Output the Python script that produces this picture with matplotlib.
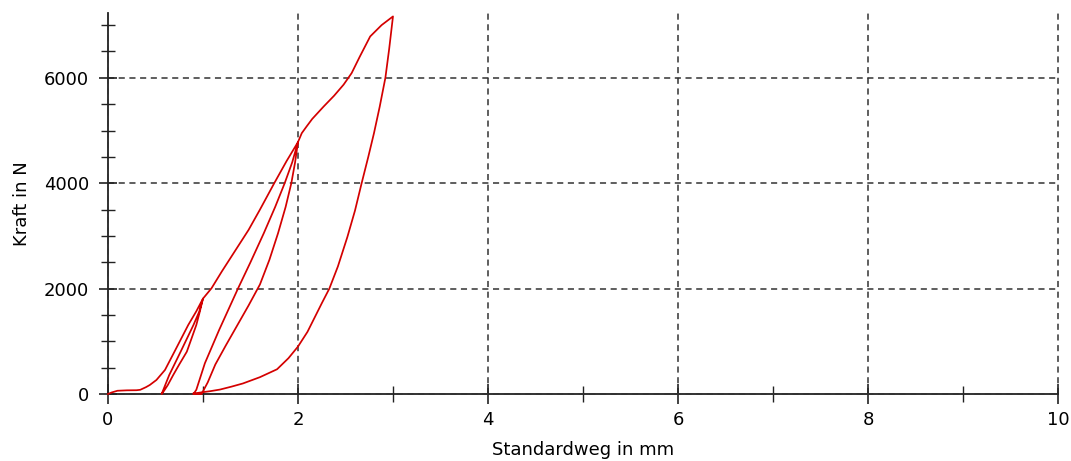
import matplotlib
matplotlib.use("Agg")
import matplotlib.pyplot as plt
from matplotlib.ticker import MultipleLocator

# ---- data (Standardweg in mm, Kraft in N) ----
load1_x = [0.0, 0.04, 0.10, 0.20, 0.30, 0.34, 0.40, 0.44, 0.51, 0.60, 0.70, 0.845, 0.93, 1.0]
load1_y = [0, 30, 62, 70, 72, 80, 130, 171, 266, 456, 803, 1310, 1570, 1810]

unload1_x = [1.0, 0.965, 0.93, 0.875, 0.83, 0.75, 0.687, 0.63, 0.59, 0.565]
unload1_y = [1810, 1550, 1310, 1030, 803, 560, 361, 171, 60, 0]

reload1_x = [0.565, 0.585, 0.645, 0.765, 0.90, 0.96, 1.0, 1.09, 1.20, 1.35, 1.48, 1.60, 1.75, 1.88, 2.0]
reload1_y = [0, 90, 361, 803, 1310, 1560, 1810, 2007, 2330, 2750, 3114, 3500, 4000, 4420, 4780]

unload2_x = [2.0, 1.97, 1.93, 1.87, 1.79, 1.70, 1.60, 1.48, 1.36, 1.24, 1.13, 1.05, 1.0, 0.985]
unload2_y = [4780, 4400, 4000, 3550, 3050, 2550, 2080, 1680, 1300, 920, 560, 220, 50, 0]

reload2_x = [0.985, 0.90, 0.93, 1.02, 1.17, 1.37, 1.50, 1.64, 1.76, 1.86, 1.94, 2.0,
             2.04, 2.09, 2.15, 2.27, 2.38, 2.48, 2.565, 2.65, 2.76, 2.88, 3.0]
reload2_y = [0, 0, 80, 583, 1215, 2007, 2500, 3050, 3550, 4000, 4400, 4780,
             4950, 5075, 5220, 5455, 5660, 5870, 6090, 6400, 6785, 7000, 7165]

unload3_x = [3.0, 2.96, 2.92, 2.86, 2.80, 2.74, 2.67, 2.60, 2.52, 2.42, 2.33, 2.25, 2.18, 2.10,
             2.0, 1.90, 1.78, 1.60, 1.42, 1.30, 1.18, 1.08, 0.98, 0.90]
unload3_y = [7165, 6550, 6000, 5450, 4950, 4500, 4000, 3480, 2980, 2420, 2000, 1720, 1468, 1180,
             900, 680, 470, 320, 200, 140, 85, 55, 30, 10]

x_ticks = [0, 2, 4, 6, 8, 10]
y_ticks = [0, 2000, 4000, 6000]
x_label = "Standardweg in mm"
y_label = "Kraft in N"

plt.rcParams['font.family'] = ['DejaVu Sans']

fig = plt.figure(figsize=(10.71, 4.61), dpi=100)
ax = fig.add_axes([0.1008, 0.1453, 0.8871, 0.8265])

xs = load1_x + unload1_x + reload1_x + unload2_x + reload2_x + unload3_x
ys = load1_y + unload1_y + reload1_y + unload2_y + reload2_y + unload3_y
ax.plot(xs, ys, color='#d40000', lw=1.25, solid_joinstyle='round', zorder=3, clip_on=False)

ax.set_xlim(0, 10)
ax.set_ylim(0, 7230)
ax.set_xticks(x_ticks)
ax.set_yticks(y_ticks)
ax.xaxis.set_minor_locator(MultipleLocator(1))
ax.yaxis.set_minor_locator(MultipleLocator(500))

for s in ['top', 'right']:
    ax.spines[s].set_visible(False)
for s in ['left', 'bottom']:
    ax.spines[s].set_linewidth(1.3)
    ax.spines[s].set_color('#222222')

ax.grid(which='major', color='#333333', lw=1.1, linestyle=(0, (4, 3)))
for gl in ax.get_xgridlines() + ax.get_ygridlines():
    gl.set_clip_on(False)
ax.set_axisbelow(False)

ax.tick_params(axis='x', which='major', direction='inout', length=14, width=1.2, pad=5,
               labelsize=13, colors='#222222')
ax.tick_params(axis='x', which='minor', direction='inout', length=11, width=1.0, colors='#222222')
ax.tick_params(axis='y', which='major', direction='inout', length=13.5, width=1.2, pad=7,
               labelsize=13, colors='#222222')
ax.tick_params(axis='y', which='minor', direction='inout', length=10, width=1.0, colors='#222222')
for lab in ax.get_xticklabels() + ax.get_yticklabels():
    lab.set_color('black')

ax.set_xlabel(x_label, fontsize=13, labelpad=9)
ax.set_ylabel(y_label, fontsize=13, labelpad=9)

fig.savefig("out.png", dpi=100)
